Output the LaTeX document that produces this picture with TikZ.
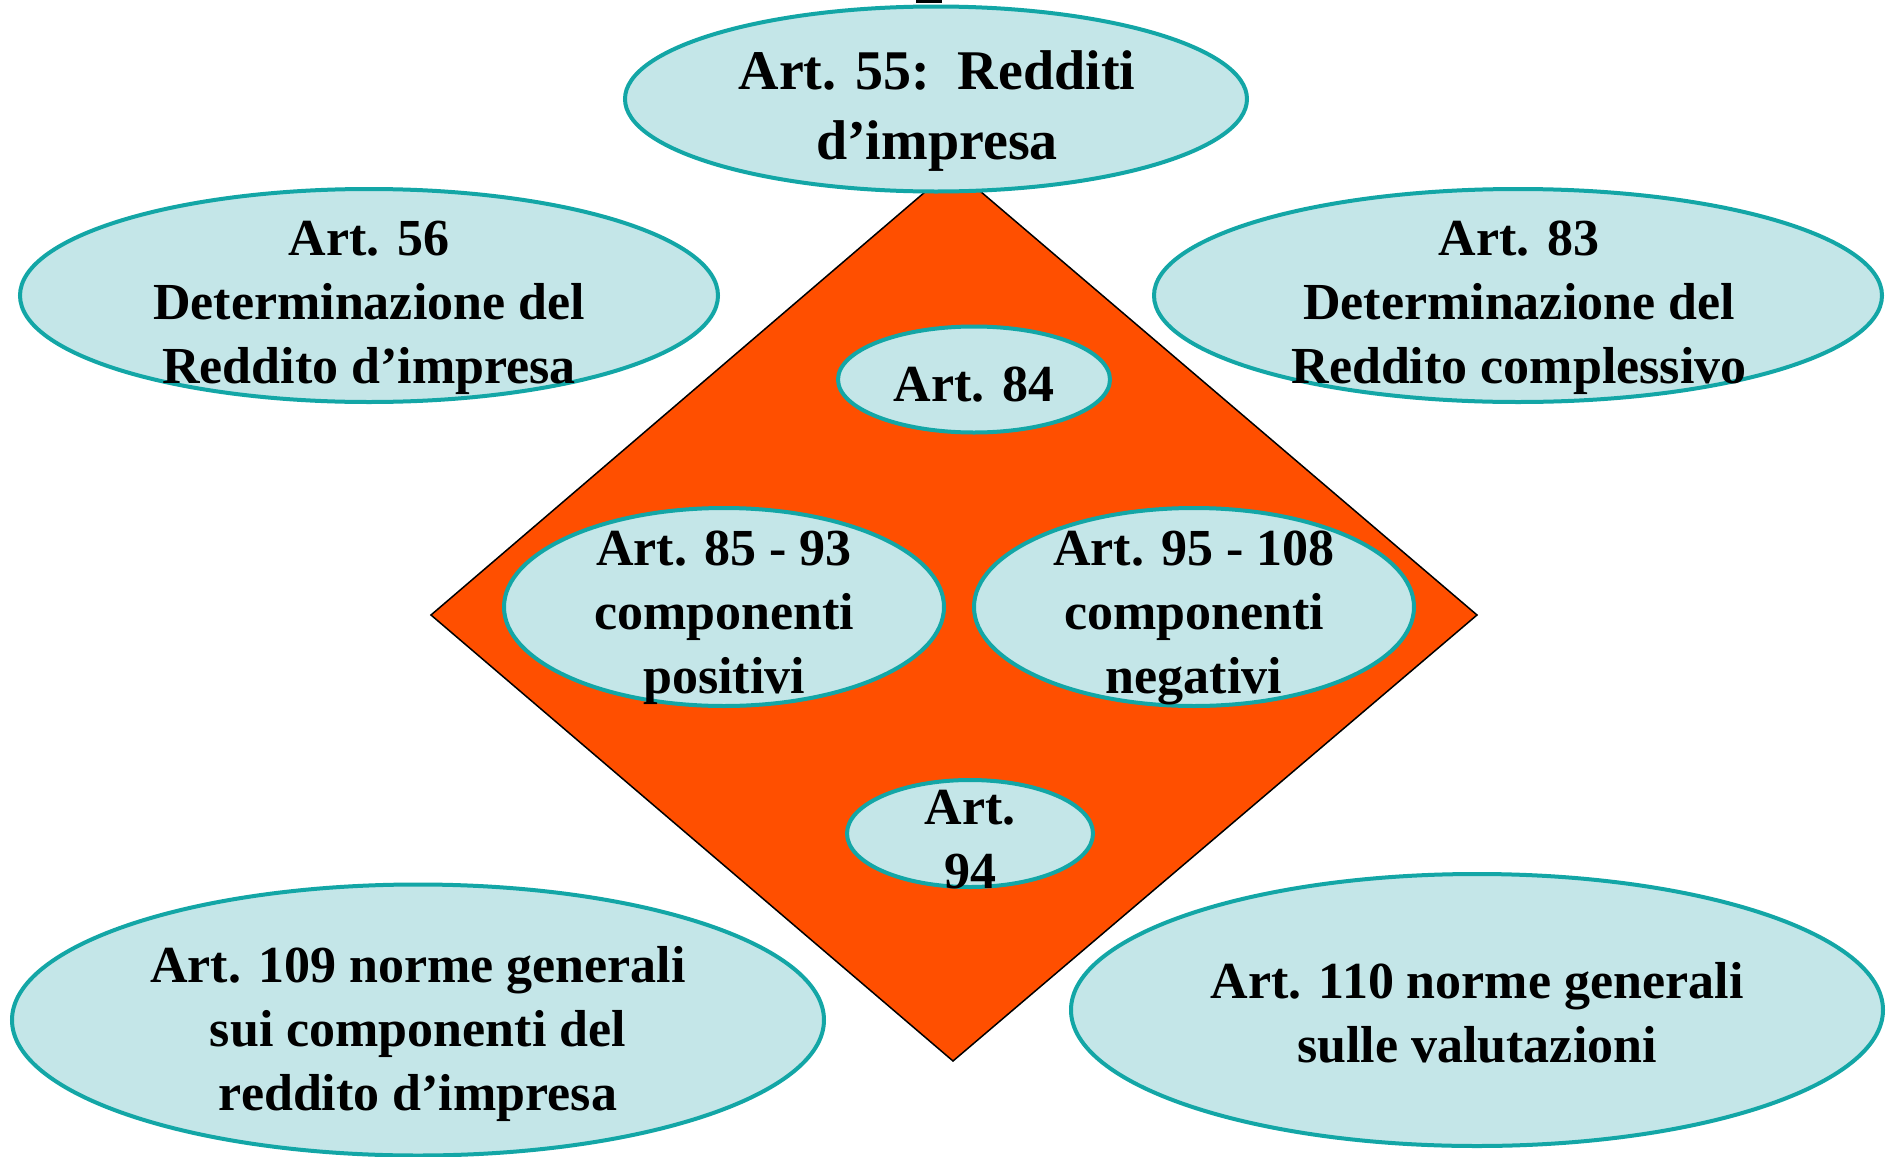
\documentclass[tikz,border=0pt]{standalone}
\usepackage{fontspec}
\setmainfont{Liberation Serif}
\usetikzlibrary{shapes.geometric}
\definecolor{orangec}{RGB}{255,79,0}
\definecolor{cyanl}{RGB}{196,230,232}
\definecolor{tealc}{RGB}{19,166,166}
\tikzset{
  ell/.style={ellipse, draw=tealc, fill=cyanl, line width=2pt, inner sep=0pt},
  txt/.style={font=\bfseries\fontsize{26}{32}\selectfont, align=center, inner sep=0pt, text=black},
  bigtxt/.style={font=\bfseries\fontsize{28}{35}\selectfont, align=center, inner sep=0pt, text=black},
  diamondfill/.style={fill=orangec, draw=black, line width=0.75pt, line join=miter}
}
\begin{document}
\begin{tikzpicture}[x=0.5pt, y=-0.5pt]
\useasboundingbox (0,0) rectangle (1887,1157);
\fill[white] (0,0) rectangle (1887,1157);
% clipped mark at top
\fill[black] (916,0) rectangle (942,3);
% diamond
\coordinate (dt) at (953,168);
\coordinate (dr) at (1477,615);
\coordinate (db) at (953,1061);
\coordinate (dl) at (431,615);
\draw[diamondfill] (dt) -- (dr) -- (db) -- (dl) -- cycle;
% ellipses
\node[ell, minimum width=311pt, minimum height=92.5pt] (e55) at (936,99) {};
\node[ell, minimum width=349pt, minimum height=106.5pt] (e56) at (369,295.5) {};
\node[ell, minimum width=364pt, minimum height=106.5pt] (e83) at (1518,295.5) {};
\node[ell, minimum width=136pt, minimum height=53pt] (e84) at (974,379.5) {};
\node[ell, minimum width=220pt, minimum height=99pt] (e85) at (724,607) {};
\node[ell, minimum width=220pt, minimum height=99pt] (e95) at (1194,607) {};
\node[ell, minimum width=123pt, minimum height=53.5pt] (e94) at (970,833.5) {};
\node[ell, minimum width=406pt, minimum height=135.5pt] (e109) at (418,1020) {};
\node[ell, minimum width=406pt, minimum height=136pt] (e110) at (1477,1010) {};
% texts
\node[bigtxt] (t55) at (937,111) {Art. 55:\ \ Redditi\\d’impresa};
\node[txt] (t56) at (369,307.5) {Art. 56\\Determinazione del\\Reddito d’impresa};
\node[txt] (t83) at (1519,307.5) {Art. 83\\Determinazione del\\Reddito complessivo};
\node[txt] (t84) at (974,384.5) {Art. 84};
\node[txt] (t85) at (724,618) {Art. 85 - 93\\componenti\\positivi};
\node[txt] (t95) at (1194,618) {Art. 95 - 108\\componenti\\negativi};
\node[txt] (t94) at (970,840) {Art.\\94};
\node[txt] (t109) at (418,1034) {Art. 109 norme generali\\sui componenti del\\reddito d’impresa};
\node[txt] (t110) at (1477,1012.5) {Art. 110 norme generali\\sulle valutazioni};
\end{tikzpicture}
\end{document}
